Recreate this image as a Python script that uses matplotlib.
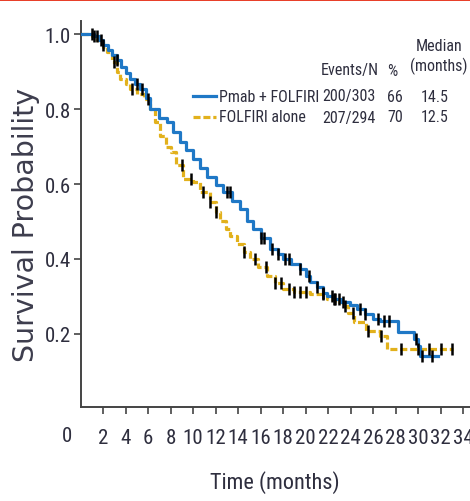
import os

import matplotlib
matplotlib.use("Agg")
import matplotlib.pyplot as plt
import numpy as np
from matplotlib import font_manager as fm
from matplotlib.lines import Line2D
from matplotlib.patches import Rectangle

# Kaplan-Meier curves (time in months, survival)
pmab_t = [0, 1.2, 1.6, 2.0, 2.4, 2.8, 3.2, 3.6, 4.0, 4.4, 4.8, 5.3, 5.8, 6.2, 7.0, 7.7,
          8.2, 8.8, 9.4, 10.0, 10.6, 11.2, 12.0, 12.7, 13.5, 14.2, 14.8, 15.3, 16.0, 16.8,
          17.5, 18.0, 18.7, 19.5, 20.0, 20.4, 21.0, 21.5, 21.9, 22.5, 23.1, 23.9, 24.6,
          25.3, 26.0, 26.6, 28.2, 29.6, 30.0, 30.2, 31.8]
pmab_s = [1.0, 0.995, 0.985, 0.97, 0.958, 0.945, 0.93, 0.912, 0.897, 0.88, 0.868, 0.853,
          0.83, 0.80, 0.777, 0.765, 0.74, 0.712, 0.69, 0.667, 0.643, 0.62, 0.598, 0.578,
          0.555, 0.533, 0.50, 0.48, 0.455, 0.427, 0.412, 0.40, 0.387, 0.373, 0.355, 0.339,
          0.325, 0.31, 0.30, 0.292, 0.285, 0.276, 0.267, 0.253, 0.24, 0.235, 0.205, 0.187,
          0.168, 0.14, 0.14]
pmab_cens = [1.0, 1.5, 2.0, 3.2, 5.0, 5.5, 13.0, 13.3, 16.0, 16.3, 17.0, 17.5, 18.2, 18.5,
             19.5, 20.3, 21.0, 21.5, 22.3, 22.6, 23.0, 23.3, 24.8, 25.3, 26.4, 27.0, 27.4,
             29.8, 30.3, 31.2]

folf_t = [0, 1.0, 1.5, 2.0, 2.35, 2.8, 3.2, 3.5, 4.0, 4.4, 5.0, 5.6, 6.2, 6.6, 7.1, 7.6,
          8.0, 8.5, 9.1, 10.0, 10.6, 11.5, 12.0, 12.4, 12.9, 13.3, 13.9, 14.5, 15.1, 15.8,
          16.6, 17.3, 18.0, 19.0, 20.4, 21.9, 22.6, 23.3, 23.8, 24.3, 25.4, 26.6, 27.2, 33.1]
folf_s = [1.0, 0.995, 0.985, 0.965, 0.952, 0.925, 0.90, 0.88, 0.866, 0.853, 0.84, 0.827,
          0.80, 0.765, 0.728, 0.70, 0.685, 0.65, 0.613, 0.605, 0.578, 0.552, 0.525, 0.50,
          0.48, 0.461, 0.44, 0.418, 0.40, 0.378, 0.355, 0.337, 0.32, 0.313, 0.307, 0.293,
          0.285, 0.275, 0.255, 0.232, 0.208, 0.195, 0.16, 0.16]
folf_cens = [1.2, 1.8, 3.0, 4.6, 6.0, 9.0, 9.8, 10.9, 11.5, 12.0, 14.5, 15.5, 16.5, 17.3,
             17.8, 18.5, 19.0, 19.5, 20.0, 21.5, 22.5, 23.5, 24.2, 25.5, 26.7, 28.5, 30.0,
             31.0, 32.0, 33.0]

xticks = list(range(2, 35, 2))
yticks = [0.2, 0.4, 0.6, 0.8, 1.0]

header = ["Events/N", "%", "Median\n(months)"]
arms = ["Pmab + FOLFIRI", "FOLFIRI alone"]
events = ["200/303", "207/294"]
pct = ["66", "70"]
medians = ["14.5", "12.5"]

BLUE = "#1f78c6"
GOLD = "#e2b11c"
TXT = "#2e2e3e"


def narrow_font():
    """find a condensed sans font on the system, else plain Liberation Sans"""
    wanted = ["LiberationSansNarrow-Regular", "RobotoCondensed-Regular",
              "Roboto_Condensed-Regular", "NotoSans-Condensed.", "NotoSans-ExtraCondensed.",
              "OpenSans_Condensed-Regular", "DejaVuSansCondensed."]
    files = [f.fname for f in fm.fontManager.ttflist]
    files += fm.findSystemFonts()
    for w in wanted:
        for path in files:
            if os.path.basename(path).startswith(w):
                return fm.FontProperties(fname=path), 1.0
    return fm.FontProperties(family=["Liberation Sans", "DejaVu Sans"]), 0.8


NARROW, scale = narrow_font()


def nfont(size):
    fp = NARROW.copy()
    fp.set_size(size * scale)
    return fp


W, H = 470, 502
fig = plt.figure(figsize=(W / 100, H / 100), dpi=100)
ax = fig.add_axes([80.5 / W, 1 - 408 / H, 1 - 80.5 / W, (408 - 22) / H])


def step_at(t, s, x):
    idx = np.searchsorted(t, x, side="right") - 1
    return np.asarray(s)[idx]


ax.plot(pmab_t, pmab_s, drawstyle="steps-post", color=BLUE, lw=2.3, zorder=3)
ax.plot(folf_t, folf_s, drawstyle="steps-post", color=GOLD, lw=2.3,
        dashes=(2.2, 0.9), zorder=2)
ax.plot(pmab_cens, step_at(pmab_t, pmab_s, pmab_cens), ls="none", marker="|",
        ms=8, mew=1.8, color="black", zorder=4)
ax.plot(folf_cens, step_at(folf_t, folf_s, folf_cens), ls="none", marker="|",
        ms=8, mew=1.8, color="black", zorder=4)

ax.set_xlim(0, 34.6)
ax.set_ylim(0.005, 1.035)
ax.set_xticks(xticks)
ax.set_yticks(yticks)
ax.set_yticklabels([f"{v:.1f}" for v in yticks])
for sp in ["top", "right"]:
    ax.spines[sp].set_visible(False)
for sp in ["left", "bottom"]:
    ax.spines[sp].set_color("#444444")
    ax.spines[sp].set_linewidth(1.4)
ax.tick_params(axis="both", direction="out", length=5, width=1.2, color="#444444",
               labelcolor=TXT)
ax.tick_params(axis="x", pad=10)
ax.tick_params(axis="y", pad=2)
for lab in ax.get_xticklabels() + ax.get_yticklabels():
    lab.set_fontproperties(nfont(15))

fig.text(67 / W, 1 - 437 / H, "0", ha="center", va="center", color=TXT,
         fontproperties=nfont(15))
fig.text(275 / W, 1 - 483 / H, "Time (months)", ha="center", va="center",
         color=TXT, fontproperties=nfont(16))
fig.text(26 / W, 1 - 225 / H, "Survival Probability", ha="center", va="center",
         rotation=90, fontsize=20.5, color="#3d3d4d", family="DejaVu Sans")


# legend table
def ftxt(px, py, s, ha="center"):
    fig.text(px / W, 1 - py / H, s, ha=ha, va="center", color=TXT,
             fontproperties=nfont(11.5), linespacing=1.25)


ftxt(350, 71, header[0])
ftxt(392, 71, header[1])
ftxt(439, 57, header[2])
rows_y = [97, 118]
colors = [BLUE, GOLD]
styles = [dict(), dict(dashes=(2.2, 0.9))]
for i in range(2):
    fig.add_artist(Line2D([193 / W, 216 / W], [1 - rows_y[i] / H] * 2, color=colors[i],
                          lw=2.3, **styles[i]))
    ftxt(219, rows_y[i], arms[i], ha="left")
    ftxt(349, rows_y[i], events[i])
    ftxt(395, rows_y[i], pct[i])
    ftxt(435, rows_y[i], medians[i])

fig.add_artist(Rectangle((0, 1 - 2 / H), 1, 2 / H, transform=fig.transFigure,
                         color="#e8402a", lw=0))

fig.savefig("out.png", dpi=100)
